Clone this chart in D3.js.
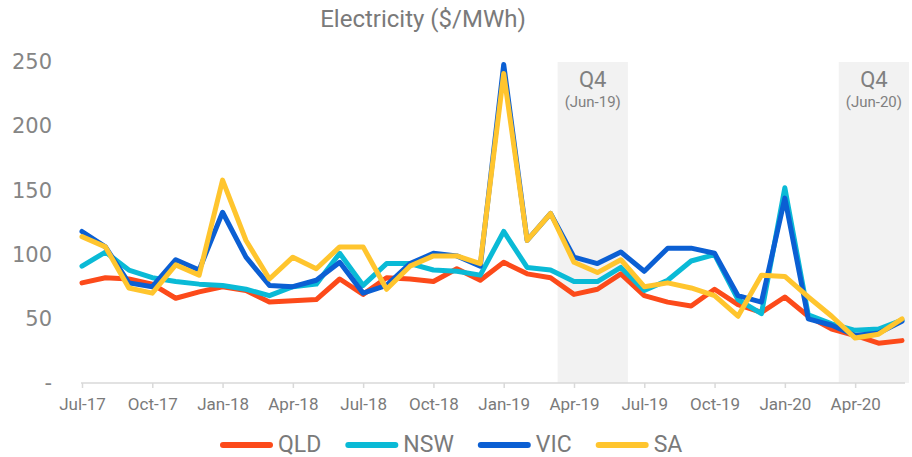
<!DOCTYPE html>
<meta charset="utf-8"/>
<style>
  html, body { margin: 0; padding: 0; background: #fff; }
  text { font-family: Roboto, sans-serif; }
  .axis-x path { stroke: #d9d9d9; stroke-width: 1.5px; }
  .axis-x line { stroke: #d9d9d9; stroke-width: 1.5px; }
  .axis-x text { font-size: 17px; fill: #7a7a7a; }
  .axis-y text { font-family: "DejaVu Sans", sans-serif; font-size: 21px; fill: #858585; }
  .series { fill: none; stroke-width: 5px; stroke-linejoin: round; stroke-linecap: round; }
</style>
<body>
<svg width="912" height="457"></svg>
</body>
<script src="https://d3js.org/d3.v7.min.js"></script>
<script>

  // months Jul-17 .. Jun-20
  var months = ["Jul-17","Aug-17","Sep-17","Oct-17","Nov-17","Dec-17",
    "Jan-18","Feb-18","Mar-18","Apr-18","May-18","Jun-18",
    "Jul-18","Aug-18","Sep-18","Oct-18","Nov-18","Dec-18",
    "Jan-19","Feb-19","Mar-19","Apr-19","May-19","Jun-19",
    "Jul-19","Aug-19","Sep-19","Oct-19","Nov-19","Dec-19",
    "Jan-20","Feb-20","Mar-20","Apr-20","May-20","Jun-20"]

  var qld = [78, 82, 81, 77, 66, 71, 75, 72, 63, 64, 65, 81,
    69, 82, 81, 79, 89, 80, 94, 85, 82, 69, 73, 85,
    68, 63, 60, 73, 61, 55, 67, 52, 42, 37, 31, 33]
  var nsw = [91, 102, 88, 82, 79, 77, 76, 73, 68, 75, 77, 101,
    76, 93, 93, 88, 87, 84, 118, 90, 88, 79, 79, 90,
    72, 80, 95, 100, 65, 54, 152, 53, 46, 41, 42, 49]
  var vic = [118, 106, 78, 75, 96, 88, 133, 98, 76, 75, 80, 94,
    70, 76, 93, 101, 99, 91, 248, 111, 132, 98, 93, 102,
    87, 105, 105, 101, 68, 63, 144, 50, 45, 37, 39, 48]
  var sa = [114, 106, 74, 70, 92, 84, 158, 111, 81, 98, 89, 106,
    106, 73, 91, 99, 99, 93, 241, 111, 132, 94, 86, 96,
    75, 78, 74, 68, 52, 84, 83, 67, 52, 35, 38, 50]

  var seriesNames = ["QLD", "NSW", "VIC", "SA"]
  var seriesColors = ["#fc4a1a", "#0abad6", "#0b5fd3", "#ffc52e"]
  var seriesValues = [qld, nsw, vic, sa]

  var xTicks = ["Jul-17","Oct-17","Jan-18","Apr-18","Jul-18","Oct-18",
    "Jan-19","Apr-19","Jul-19","Oct-19","Jan-20","Apr-20"]
  var yTicks = [0, 50, 100, 150, 200, 250]

  // shaded quarters: first month, last month, label
  var quarters = [
    { from: "Apr-19", to: "Jun-19", label: "Q4", sub: "(Jun-19)" },
    { from: "Apr-20", to: "Jun-20", label: "Q4", sub: "(Jun-20)" }
  ]

  var svg = d3.select("svg")

  var x = d3.scalePoint().domain(months).range([82, 902])
  var y = d3.scaleLinear().domain([0, 250]).range([383, 62])
  var step = x.step()

  // shading
  var qg = svg.append("g")
  qg.selectAll("rect")
    .data(quarters)
    .enter().append("rect")
    .attr("x", function (d) { return x(d.from) - 0.7 * step })
    .attr("width", function (d) { return x(d.to) - x(d.from) + step })
    .attr("y", y(250))
    .attr("height", y(0) - y(250))
    .attr("fill", "#f2f2f2")

  qg.selectAll("text.q")
    .data(quarters)
    .enter().append("text")
    .attr("class", "q")
    .attr("x", function (d) { return x(d.from) - 0.7 * step + (x(d.to) - x(d.from) + step) / 2 })
    .attr("y", 87)
    .attr("text-anchor", "middle")
    .style("font-size", "22px")
    .style("fill", "#808080")
    .text(function (d) { return d.label })

  qg.selectAll("text.s")
    .data(quarters)
    .enter().append("text")
    .attr("class", "s")
    .attr("x", function (d) { return x(d.from) - 0.7 * step + (x(d.to) - x(d.from) + step) / 2 })
    .attr("y", 107)
    .attr("text-anchor", "middle")
    .style("font-size", "15px")
    .style("fill", "#808080")
    .text(function (d) { return d.sub })

  // title
  svg.append("text")
    .attr("x", 423)
    .attr("y", 27)
    .attr("text-anchor", "middle")
    .style("font-size", "24px")
    .style("fill", "#7a7a7a")
    .text("Electricity ($/MWh)")

  // axes
  svg.append("g")
    .attr("class", "axis-x")
    .attr("transform", "translate(0," + y(0) + ")")
    .call(d3.axisBottom(x).tickValues(xTicks).tickSize(5).tickSizeOuter(0).tickPadding(10))
    .call(function (g) { g.select(".domain").attr("d", "M81,0H905") })

  svg.append("g")
    .attr("class", "axis-y")
    .attr("transform", "translate(82,0)")
    .call(d3.axisLeft(y).tickValues(yTicks).tickSize(0).tickPadding(30)
      .tickFormat(function (d) { return d === 0 ? "-" : d }))
    .call(function (g) { g.select(".domain").remove() })

  // lines
  var line = d3.line()
    .x(function (d, i) { return x(months[i]) })
    .y(function (d) { return y(d) })

  svg.append("g")
    .selectAll("path")
    .data(seriesValues)
    .enter().append("path")
    .attr("class", "series")
    .attr("stroke", function (d, i) { return seriesColors[i] })
    .attr("d", line)

  // legend
  var legend = svg.append("g")
  var lx = 220
  seriesNames.forEach(function (name, i) {
    legend.append("line")
      .attr("x1", lx + 3).attr("x2", lx + 50)
      .attr("y1", 445).attr("y2", 445)
      .attr("stroke", seriesColors[i])
      .attr("stroke-width", 6)
      .attr("stroke-linecap", "round")
    var t = legend.append("text")
      .attr("x", lx + 58)
      .attr("y", 452)
      .style("font-size", "23px")
      .style("fill", "#7a7a7a")
      .text(name)
    lx += 58 + t.node().getComputedTextLength() + 24
  })

</script>
